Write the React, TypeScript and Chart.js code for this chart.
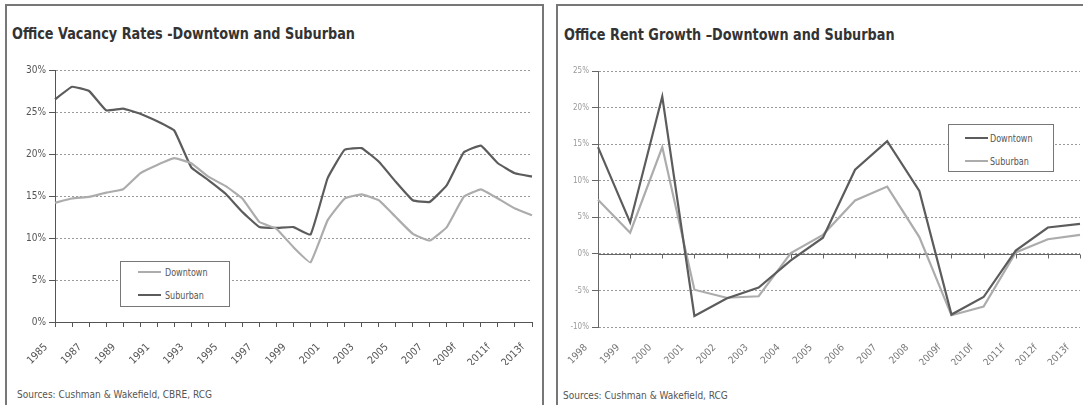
import React, { useEffect, useRef } from 'react';
import { Chart, registerables } from 'chart.js';

Chart.register(...registerables);

// ---------- Data ----------
const vacancyYears = [
  '1985', '1986', '1987', '1988', '1989', '1990', '1991', '1992', '1993', '1994',
  '1995', '1996', '1997', '1998', '1999', '2000', '2001', '2002', '2003', '2004',
  '2005', '2006', '2007', '2008', '2009f', '2010f', '2011f', '2012f', '2013f',
];
const vacancyDowntown = [
  14.2, 14.7, 14.9, 15.4, 15.8, 17.7, 18.7, 19.5, 18.9, 17.3,
  16.2, 14.7, 11.9, 11.1, 8.9, 7.1, 12.1, 14.7, 15.2, 14.5,
  12.5, 10.5, 9.7, 11.3, 14.9, 15.8, 14.7, 13.5, 12.7,
];
const vacancySuburban = [
  26.5, 28.0, 27.5, 25.2, 25.4, 24.8, 23.9, 22.8, 18.4, 16.9,
  15.3, 13.1, 11.3, 11.2, 11.3, 10.4, 17.1, 20.5, 20.7, 19.1,
  16.7, 14.5, 14.3, 16.3, 20.2, 21.0, 18.9, 17.7, 17.3,
];

const rentYears = [
  '1998', '1999', '2000', '2001', '2002', '2003', '2004', '2005', '2006', '2007',
  '2008', '2009f', '2010f', '2011f', '2012f', '2013f',
];
const rentDowntown = [14.6, 4.3, 21.5, -8.5, -6.1, -4.6, -0.9, 2.2, 11.5, 15.4, 8.6, -8.3, -5.9, 0.45, 3.6, 4.1];
const rentSuburban = [7.4, 2.9, 14.6, -4.9, -6.0, -5.8, 0.1, 2.6, 7.3, 9.2, 2.3, -8.4, -7.2, 0.2, 2.0, 2.6];

const vacancyTitle = 'Office Vacancy Rates -Downtown and Suburban';
const rentTitle = 'Office Rent Growth \u2013Downtown and Suburban';
const vacancySource = 'Sources: Cushman & Wakefield, CBRE, RCG';
const rentSource = 'Sources: Cushman & Wakefield, RCG';
const seriesNames = ['Downtown', 'Suburban'];

// ---------- Styles ----------
const NARROW = '"Liberation Sans Narrow", "Arial Narrow", "DejaVu Sans Condensed", sans-serif';
const DARK = '#5c5c5c';
const LIGHT = '#acacac';

const zeroLinePlugin = {
  id: 'zeroLine',
  beforeDatasetsDraw(chart: any) {
    const { ctx, scales } = chart;
    const x = scales.x;
    const y = scales.y;
    const yy = Math.round(y.getPixelForValue(0)) + 0.5;
    ctx.save();
    ctx.strokeStyle = '#666';
    ctx.lineWidth = 1;
    ctx.beginPath();
    ctx.moveTo(x.left, yy);
    ctx.lineTo(x.right, yy);
    for (let i = 0; i < x.ticks.length; i++) {
      const px = Math.round(x.getPixelForTick(i)) + 0.5;
      ctx.moveTo(px, yy);
      ctx.lineTo(px, yy + 4);
    }
    ctx.stroke();
    ctx.restore();
  },
};

const fitX = (h: number) => (s: any) => {
  s.height = h;
  s.paddingLeft = 0;
  s.paddingRight = 0;
};

function VacancyChart() {
  const ref = useRef<HTMLCanvasElement | null>(null);
  useEffect(() => {
    const chart = new Chart(ref.current as HTMLCanvasElement, {
      type: 'line',
      data: {
        labels: vacancyYears,
        datasets: [
          {
            label: seriesNames[0],
            data: vacancyDowntown,
            borderColor: LIGHT,
            borderWidth: 2.2,
            pointRadius: 0,
            tension: 0.1,
          },
          {
            label: seriesNames[1],
            data: vacancySuburban,
            borderColor: DARK,
            borderWidth: 2.2,
            pointRadius: 0,
            tension: 0.1,
          },
        ],
      },
      options: {
        animation: false,
        responsive: false,
        devicePixelRatio: 1,
        layout: { padding: { top: 25, right: 8, left: 0, bottom: 0 } },
        plugins: { legend: { display: false }, tooltip: { enabled: false } },
        scales: {
          x: {
            type: 'category',
            offset: false,
            afterFit: fitX(43),
            grid: { display: true, drawOnChartArea: false, drawTicks: true, tickLength: 5, tickColor: '#555' },
            border: { display: true, color: '#555', width: 1 },
            ticks: {
              autoSkip: false,
              minRotation: 45,
              maxRotation: 45,
              padding: 14,
              labelOffset: -9,
              color: '#555',
              font: { family: NARROW, size: 10.5 },
              callback: (_v: any, i: number) => (i % 2 === 0 ? vacancyYears[i] : ''),
            },
          },
          y: {
            min: 0,
            max: 30,
            afterFit: (s: any) => { s.width = 47; },
            grid: { color: '#9a9a9a', drawTicks: true, tickLength: 6, tickColor: '#555' },
            border: { display: true, color: '#555', width: 1, dash: [2, 2] },
            ticks: {
              stepSize: 5,
              padding: 3,
              color: '#555',
              font: { family: NARROW, size: 10 },
              callback: (v: any) => v + '%',
            },
          },
        },
      } as any,
    });
    return () => chart.destroy();
  }, []);
  return <canvas ref={ref} width={532} height={320} style={{ position: 'absolute', left: 8, top: 45 }} />;
}

function RentChart() {
  const ref = useRef<HTMLCanvasElement | null>(null);
  useEffect(() => {
    const chart = new Chart(ref.current as HTMLCanvasElement, {
      type: 'line',
      data: {
        labels: rentYears,
        datasets: [
          {
            label: seriesNames[0],
            data: rentDowntown,
            borderColor: DARK,
            borderWidth: 2.2,
            pointRadius: 0,
            tension: 0,
          },
          {
            label: seriesNames[1],
            data: rentSuburban,
            borderColor: LIGHT,
            borderWidth: 2.2,
            pointRadius: 0,
            tension: 0,
          },
        ],
      },
      options: {
        animation: false,
        responsive: false,
        devicePixelRatio: 1,
        layout: { padding: { top: 26, right: 3, left: 0, bottom: 0 } },
        plugins: { legend: { display: false }, tooltip: { enabled: false } },
        scales: {
          x: {
            type: 'category',
            offset: false,
            afterFit: fitX(38),
            grid: { display: false },
            border: { display: false },
            ticks: {
              autoSkip: false,
              minRotation: 45,
              maxRotation: 45,
              padding: 7,
              labelOffset: -12,
              color: '#777',
              font: { family: NARROW, size: 10 },
            },
          },
          y: {
            min: -10,
            max: 25,
            afterFit: (s: any) => { s.width = 38; },
            grid: { color: '#9a9a9a', drawTicks: true, tickLength: 6, tickColor: '#666' },
            border: { display: true, color: '#666', width: 1, dash: [2, 2] },
            ticks: {
              stepSize: 5,
              padding: 3,
              color: '#9a9a9a',
              font: { family: NARROW, size: 8 },
              callback: (v: any) => v + '%',
            },
          },
        },
      } as any,
      plugins: [zeroLinePlugin],
    });
    return () => chart.destroy();
  }, []);
  return <canvas ref={ref} width={523} height={320} style={{ position: 'absolute', left: 560, top: 45 }} />;
}

function Legend(props: { left: number; top: number; width: number; height: number; lineLeft: number; textLeft: number; rows: number[]; colors: string[] }) {
  const { left, top, width, height, lineLeft, textLeft, rows, colors } = props;
  return (
    <div style={{ position: 'absolute', left, top, width, height, border: '1px solid #777', background: '#fff', boxSizing: 'border-box' }}>
      {seriesNames.map((n, i) => (
        <React.Fragment key={n}>
          <div style={{ position: 'absolute', left: lineLeft, top: rows[i] - 1, width: 23, height: 2, background: colors[i] }} />
          <div style={{ position: 'absolute', left: textLeft, top: rows[i] - 7, fontFamily: NARROW, fontSize: 10.5, lineHeight: '14px', color: '#555', whiteSpace: 'nowrap', transform: 'scaleX(0.85)', transformOrigin: 'left center' }}>{n}</div>
        </React.Fragment>
      ))}
    </div>
  );
}

export default function App() {
  const titleStyle: React.CSSProperties = {
    position: 'absolute', fontFamily: NARROW, fontWeight: 'bold', fontSize: 16.5, lineHeight: '18px', color: '#333', whiteSpace: 'nowrap',
    transform: 'scaleX(0.865)', transformOrigin: 'left center',
  };
  const sourceStyle: React.CSSProperties = {
    position: 'absolute', fontFamily: NARROW, fontSize: 10, lineHeight: '12px', color: '#555', whiteSpace: 'nowrap',
  };
  return (
    <div style={{ position: 'absolute', left: 0, top: 0, width: 1083, height: 405, overflow: 'hidden', background: '#fff' }}>
      <div style={{ position: 'absolute', left: 5, top: 4, width: 539, height: 430, border: '2px solid #777', boxSizing: 'border-box' }} />
      <div style={{ position: 'absolute', left: 556, top: 4, width: 560, height: 430, border: '2px solid #777', boxSizing: 'border-box' }} />
      <div style={{ ...titleStyle, left: 12, top: 25 }}>{vacancyTitle}</div>
      <div style={{ ...titleStyle, left: 564, top: 26 }}>{rentTitle}</div>
      <VacancyChart />
      <RentChart />
      <Legend left={120} top={261} width={110} height={46} lineLeft={17} textLeft={44} rows={[10, 33]} colors={[LIGHT, DARK]} />
      <Legend left={948} top={124} width={106} height={48} lineLeft={16} textLeft={41} rows={[13, 36]} colors={[DARK, LIGHT]} />
      <div style={{ ...sourceStyle, left: 17, top: 389 }}>{vacancySource}</div>
      <div style={{ ...sourceStyle, left: 563, top: 390 }}>{rentSource}</div>
    </div>
  );
}
